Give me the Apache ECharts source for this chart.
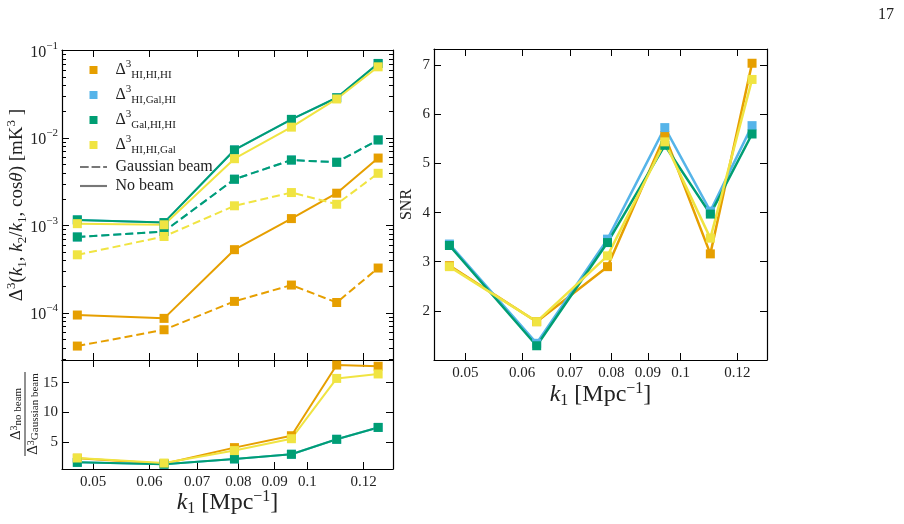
<!DOCTYPE html>
<html>
<head>
<meta charset="utf-8">
<script src="https://cdn.jsdelivr.net/npm/echarts@6/dist/echarts.min.js"></script>
<style>
  html, body { margin: 0; padding: 0; background: #fff; }
  #chart { width: 904px; height: 524px; }
</style>
</head>
<body>
<div id="chart"></div>
<script>
// k1 bins [Mpc^-1]
const k1 = [0.0475, 0.0629, 0.0790, 0.0950, 0.1100, 0.1258];

// x ticks (log axis)
const xTickVals = [0.05, 0.06, 0.07, 0.08, 0.09, 0.1, 0.12];
const xTickLabels = ["0.05", "0.06", "0.07", "0.08", "0.09", "0.1", "0.12"];
const xRange = [0.0452, 0.1320];

// bispectrum [mK^3], no beam (solid) and Gaussian beam (dashed)
const hihihi_nobeam = [9.5e-5, 8.7e-5, 5.3e-4, 1.2e-3, 2.34e-3, 5.9e-3];
const hihihi_gauss = [4.2e-5, 6.45e-5, 1.36e-4, 2.09e-4, 1.32e-4, 3.27e-4];
const higalhi_nobeam = [1.16e-3, 1.08e-3, 7.3e-3, 1.63e-2, 2.88e-2, 7.1e-2];
const higalhi_gauss = [7.4e-4, 8.55e-4, 3.38e-3, 5.6e-3, 5.28e-3, 9.5e-3];
const galhihi_nobeam = [1.16e-3, 1.08e-3, 7.3e-3, 1.63e-2, 2.88e-2, 7.1e-2];
const galhihi_gauss = [7.4e-4, 8.55e-4, 3.38e-3, 5.6e-3, 5.28e-3, 9.5e-3];
const hihigal_nobeam = [1.05e-3, 1.02e-3, 5.8e-3, 1.33e-2, 2.79e-2, 6.5e-2];
const hihigal_gauss = [4.63e-4, 7.5e-4, 1.68e-3, 2.38e-3, 1.75e-3, 3.95e-3];
const topMajor = [-4, -3, -2, -1];
const topRange = [-4.536, -0.995]; // log10

// ratio no beam / Gaussian beam
const ratio_hihihi = [2.26, 1.35, 4.05, 6.05, 17.95, 17.75];
const ratio_higalhi = [1.57, 1.26, 2.15, 2.93, 5.45, 7.45];
const ratio_galhihi = [1.57, 1.26, 2.15, 2.93, 5.45, 7.45];
const ratio_hihigal = [2.3, 1.45, 3.55, 5.55, 15.7, 16.45];
const ratioTicks = [5, 10, 15];
const ratioRange = [0.45, 18.8];

// SNR
const snr_hihihi = [2.92, 1.78, 2.9, 5.57, 3.16, 7.04];
const snr_higalhi = [3.36, 1.34, 3.46, 5.73, 4.03, 5.77];
const snr_galhihi = [3.33, 1.29, 3.39, 5.37, 3.97, 5.6];
const snr_hihigal = [2.9, 1.78, 3.12, 5.44, 3.48, 6.71];
const snrTicks = [2, 3, 4, 5, 6, 7];
const snrRange = [1.0, 7.33];

const font = "'Liberation Serif', 'DejaVu Serif', serif";
const ink = "#222";
const keys = ["HIHIHI", "HIGalHI", "GalHIHI", "HIHIGal"];
const colors = { HIHIHI: "#E69F00", HIGalHI: "#56B4E9", GalHIHI: "#009E73", HIHIGal: "#F0E442" };
const subs = { HIHIHI: "HI,HI,HI", HIGalHI: "HI,Gal,HI", GalHIHI: "Gal,HI,HI", HIHIGal: "HI,HI,Gal" };

const lg = (v) => Math.log10(v);

// minor ticks for the log y axis: 2..9 x 10^n
let topMinor = [];
for (let e = -5; e <= -1; e++) {
  for (let m = 2; m <= 9; m++) {
    let v = lg(m * Math.pow(10, e));
    if (v > topRange[0] && v < topRange[1]) topMinor.push(v);
  }
}

function xFmt(v) {
  let best = 0;
  for (let i = 0; i < xTickVals.length; i++) {
    if (Math.abs(lg(xTickVals[i]) - v) < Math.abs(lg(xTickVals[best]) - v)) best = i;
  }
  return xTickLabels[best];
}

// rich text piece styles
function rs(size, extra) {
  return Object.assign({ fontSize: size, fontFamily: font, color: ink }, extra || {});
}

const axisLineStyle = { color: "#000", width: 1.2 };
const labelStyle = { color: ink, fontSize: 15, fontFamily: font };

function xAx(grid, pos, showLabel, showTick) {
  return {
    type: "value", gridIndex: grid, position: pos,
    min: lg(xRange[0]), max: lg(xRange[1]),
    axisLine: { show: true, onZero: false, lineStyle: axisLineStyle },
    axisTick: { show: showTick, inside: true, length: 7, customValues: xTickVals.map(lg), lineStyle: { color: "#000", width: 1 } },
    axisLabel: Object.assign({ show: showLabel, customValues: xTickVals.map(lg), formatter: xFmt, margin: 6 }, labelStyle),
    splitLine: { show: false },
    nameMoveOverlap: false
  };
}

function yAx(grid, pos, range, ticks, len, showLine, showLabel, fmt) {
  return {
    type: "value", gridIndex: grid, position: pos,
    min: range[0], max: range[1],
    axisLine: { show: showLine, onZero: false, lineStyle: axisLineStyle },
    axisTick: { show: true, inside: true, length: len, customValues: ticks, lineStyle: { color: "#000", width: 1 } },
    axisLabel: Object.assign({ show: showLabel, customValues: ticks, formatter: fmt, margin: 4 }, labelStyle, {
      rich: {
        b: rs(16, { lineHeight: 20, verticalAlign: "bottom" }),
        e: rs(11, { lineHeight: 11, verticalAlign: "top" })
      }
    }),
    splitLine: { show: false },
    nameMoveOverlap: false
  };
}

const xName = "{i|k}{s|1}{t| [Mpc}{p|\u22121}{t|]}";
const xNameStyle = {
  fontFamily: font, color: ink,
  rich: {
    t: rs(24, { lineHeight: 28 }),
    i: rs(24, { fontStyle: "italic", lineHeight: 28 }),
    s: rs(16, { lineHeight: 14, verticalAlign: "bottom" }),
    p: rs(16, { lineHeight: 14, verticalAlign: "top" })
  }
};

let xAxes = [
  xAx(0, "bottom", false, true),
  xAx(0, "top", false, true),
  Object.assign(xAx(1, "bottom", true, true), { name: xName, nameLocation: "middle", nameGap: 20, nameTextStyle: xNameStyle }),
  xAx(1, "top", false, true),
  Object.assign(xAx(2, "bottom", true, true), { name: xName, nameLocation: "middle", nameGap: 21, nameTextStyle: xNameStyle }),
  xAx(2, "top", false, true)
];

const powFmt = (v) => "{b|10}{e|\u2212" + Math.round(-v) + "}";
const plainFmt = (v) => String(Math.round(v));

let yTop = yAx(0, "left", topRange, topMajor, 7, true, true, powFmt);
yTop.name = "{t|\u0394}{p|3}{t|(}{i|k}{s|1}{t|, }{i|k}{s|2}{t|/}{i|k}{s|1}{t|, cos}{i|\u03b8}{t|) [mK}{p|3}{t| ]}";
yTop.nameLocation = "middle";
yTop.nameGap = 33;
yTop.nameTextStyle = {
  fontFamily: font, color: ink,
  rich: {
    t: rs(19, { lineHeight: 24 }),
    i: rs(19, { fontStyle: "italic", lineHeight: 24 }),
    s: rs(13, { lineHeight: 12, verticalAlign: "bottom" }),
    p: rs(13, { lineHeight: 12, verticalAlign: "top" })
  }
};

let ySnr = yAx(2, "left", snrRange, snrTicks, 7, true, true, plainFmt);
ySnr.name = "SNR";
ySnr.nameLocation = "middle";
ySnr.nameGap = 19;
ySnr.nameTextStyle = { fontFamily: font, fontSize: 16, color: ink };

let yAxes = [
  yTop,
  yAx(0, "left", topRange, topMinor, 4, false, false, null),
  yAx(0, "right", topRange, topMajor, 7, true, false, null),
  yAx(0, "right", topRange, topMinor, 4, false, false, null),
  yAx(1, "left", ratioRange, ratioTicks, 7, true, true, plainFmt),
  yAx(1, "right", ratioRange, ratioTicks, 7, true, false, null),
  ySnr,
  yAx(2, "right", snrRange, snrTicks, 7, true, false, null)
];

function pts(ys, logY) {
  return k1.map((k, i) => [lg(k), logY ? lg(ys[i]) : ys[i]]);
}

function line(key, data, xi, yi, dashed, width) {
  return {
    type: "line", name: key, xAxisIndex: xi, yAxisIndex: yi,
    data: data, color: colors[key],
    symbol: "rect", symbolSize: 9, showSymbol: true,
    lineStyle: { width: width, type: dashed ? [8, 4] : "solid", color: colors[key] },
    itemStyle: { color: colors[key] },
    emphasis: { disabled: true }, silent: true
  };
}

const topData = {
  HIHIHI: [hihihi_nobeam, hihihi_gauss],
  HIGalHI: [higalhi_nobeam, higalhi_gauss],
  GalHIHI: [galhihi_nobeam, galhihi_gauss],
  HIHIGal: [hihigal_nobeam, hihigal_gauss]
};
const ratioData = { HIHIHI: ratio_hihihi, HIGalHI: ratio_higalhi, GalHIHI: ratio_galhihi, HIHIGal: ratio_hihigal };
const snrData = { HIHIHI: snr_hihihi, HIGalHI: snr_higalhi, GalHIHI: snr_galhihi, HIHIGal: snr_hihigal };

let series = [];
keys.forEach((key) => {
  series.push(line(key, pts(topData[key][0], true), 0, 0, false, 2));
  series.push(line(key, pts(topData[key][1], true), 0, 0, true, 2));
  series.push(line(key, pts(ratioData[key], false), 2, 4, false, 2));
  series.push(line(key, pts(snrData[key], false), 4, 6, false, 2.5));
});
// legend-only entries for the line styles
series.push({ type: "line", name: "Gaussian beam", xAxisIndex: 0, yAxisIndex: 0, data: [], color: "#777" });
series.push({ type: "line", name: "No beam", xAxisIndex: 0, yAxisIndex: 0, data: [], color: "#777" });

const squareIcon = "path://M0,0H10V10H0Z";
const dashIcon = "path://M0,0H9V2.2H0ZM12,0H21V2.2H12ZM24,0H28V2.2H24Z";
const solidIcon = "path://M0,0H28V2.2H0Z";

const fracRich = {
  d: { fontSize: 15, fontFamily: font, fill: ink, lineHeight: 15 },
  p: { fontSize: 10, fontFamily: font, fill: ink, lineHeight: 9, verticalAlign: "top" },
  b: { fontSize: 11, fontFamily: font, fill: ink, lineHeight: 9, verticalAlign: "bottom" }
};

const option = {
  backgroundColor: "#fff",
  animation: false,
  textStyle: { fontFamily: font },
  grid: [
    { left: 62, top: 50, width: 331, height: 310, outerBoundsMode: "none" },
    { left: 62, top: 360, width: 331, height: 109, outerBoundsMode: "none" },
    { left: 434, top: 49, width: 333, height: 311, outerBoundsMode: "none" }
  ],
  xAxis: xAxes,
  yAxis: yAxes,
  legend: {
    orient: "vertical", left: 75, top: 54,
    itemWidth: 27, itemHeight: 8, itemGap: 3,
    selectedMode: false,
    data: keys.map((k) => ({ name: k, icon: squareIcon }))
      .concat([{ name: "Gaussian beam", icon: dashIcon }, { name: "No beam", icon: solidIcon }]),
    formatter: function (name) {
      if (subs[name]) return " {d|\u0394}{p|3}{b|" + subs[name] + "}";
      return " {t|" + name + "}";
    },
    textStyle: {
      fontFamily: font, fontSize: 14, color: ink,
      rich: {
        d: rs(16, { lineHeight: 22 }),
        p: rs(11, { lineHeight: 10, verticalAlign: "top" }),
        b: rs(11, { lineHeight: 10, verticalAlign: "bottom" }),
        t: rs(16, { lineHeight: 21 })
      }
    }
  },
  graphic: [
    {
      type: "group", x: 25, y: 414, rotation: Math.PI / 2,
      children: [
        {
          type: "text", x: 0, y: -1,
          style: { text: "{d|\u0394}{p|3}{b|no beam}", align: "center", verticalAlign: "bottom", rich: fracRich }
        },
        { type: "line", shape: { x1: -42, y1: 0, x2: 42, y2: 0 }, style: { stroke: ink, lineWidth: 1 } },
        {
          type: "text", x: 0, y: 1,
          style: { text: "{d|\u0394}{p|3}{b|Gaussian beam}", align: "center", verticalAlign: "top", rich: fracRich }
        }
      ]
    },
    {
      type: "text", x: 886, y: 15,
      style: { text: "17", fontSize: 16, fontFamily: font, fill: ink, align: "center", verticalAlign: "middle" }
    }
  ],
  series: series
};

const chart = echarts.init(document.getElementById("chart"), null, { renderer: "canvas" });
chart.setOption(option);
</script>
</body>
</html>
